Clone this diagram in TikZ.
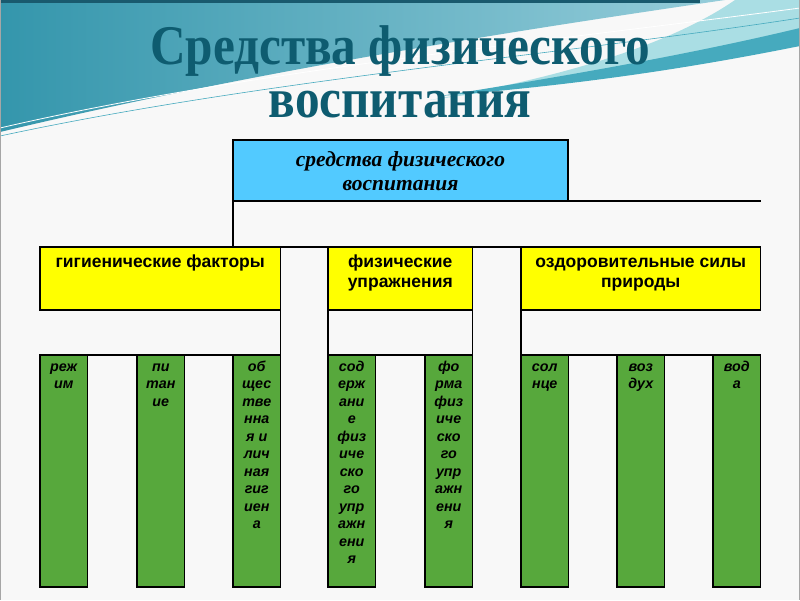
\documentclass[tikz,border=0pt]{standalone}
\usepackage{fontspec}
\setmainfont{Liberation Sans}
\newfontfamily\boxserif{Liberation Serif}
\newfontfamily\titlefont[FakeStretch=0.88]{Liberation Serif}
\definecolor{bgcol}{RGB}{248,248,248}
\definecolor{waveA}{RGB}{52,150,172}
\definecolor{waveB}{RGB}{150,205,218}
\definecolor{waveC}{RGB}{170,222,228}
\definecolor{waveD}{RGB}{70,170,190}
\definecolor{edgecol}{RGB}{25,90,110}
\definecolor{titlecol}{RGB}{14,92,112}
\definecolor{bluebox}{RGB}{82,202,255}
\definecolor{yelbox}{RGB}{255,255,0}
\definecolor{grnbox}{RGB}{87,168,60}
\tikzset{
  frame/.style={draw=black, line width=1.1pt},
  topbox/.style={frame, fill=bluebox, minimum width=335pt, minimum height=61pt, inner sep=0pt, outer sep=0pt, anchor=north west},
  grpbox/.style={frame, fill=yelbox, minimum height=63pt, inner sep=0pt, outer sep=0pt, anchor=north west},
  itembox/.style={frame, fill=grnbox, minimum width=47.5pt, minimum height=232pt, inner sep=0pt, outer sep=0pt, anchor=north west},
  itemtext/.style={anchor=north, inner sep=0pt, align=center, font=\fontsize{14.3}{17.5}\selectfont\bfseries\itshape},
  grptext/.style={anchor=north, inner sep=0pt, align=center, font=\fontsize{17.5}{20}\selectfont\bfseries},
  toptext/.style={anchor=north, inner sep=0pt, align=center, font=\boxserif\fontsize{21.5}{24}\selectfont\bfseries\itshape},
  titletext/.style={anchor=base, inner sep=0pt, text=titlecol, font=\titlefont\fontsize{56}{56}\selectfont\bfseries}
}
\begin{document}
\begin{tikzpicture}[x=1pt,y=-1pt]
\useasboundingbox (0,0) rectangle (800,600);
\fill[bgcol] (0,0) rectangle (800,600);
% decorative waves
\shade[left color=waveA, right color=waveB] (0,0) -- (725,0) .. controls (520,30) and (260,70) .. (0,132) -- cycle;
\fill[waveC] (735,0) -- (800,0) -- (800,40) .. controls (690,62) and (560,82) .. (430,100) .. controls (560,78) and (670,45) .. (735,0) -- cycle;
\fill[waveD] (800,28) .. controls (700,52) and (580,74) .. (440,96) .. controls (590,84) and (700,66) .. (800,46) -- cycle;
\draw[white, line width=0.8pt] (0,128) .. controls (250,70) and (560,40) .. (800,8);
\draw[waveD, line width=0.6pt] (0,136) .. controls (260,80) and (560,55) .. (800,18);
\fill[edgecol] (0,0) rectangle (700,3);
\draw[gray!70, line width=1pt] (0.5,0) -- (0.5,600);
\draw[gray!70, line width=1pt] (799.5,0) -- (799.5,600);
% title
\node[titletext] (t1) at (400,64) {Средства физического};
\node[titletext] (t2) at (400,117) {воспитания};
% top box
\node[topbox] (top) at (233,140) {};
\node[toptext] (toptx) at ([yshift=-9pt]top.north) {\strut средства физического\\воспитания};
% group boxes
\node[grpbox, minimum width=240.5pt] (g1) at (40,247) {};
\node[grpbox, minimum width=144.5pt] (g2) at (328,247) {};
\node[grpbox, minimum width=239.5pt] (g3) at (521,247) {};
\node[grptext] (g1t) at ([yshift=-6pt]g1.north) {\strut гигиенические факторы};
\node[grptext] (g2t) at ([yshift=-6pt]g2.north) {\strut физические\\упражнения};
\node[grptext] (g3t) at ([yshift=-6pt]g3.north) {\strut оздоровительные силы\\природы};
% item boxes
\node[itembox] (i1) at (40,355) {};
\node[itembox] (i2) at (137,355) {};
\node[itembox] (i3) at (233,355) {};
\node[itembox] (i4) at (328,355) {};
\node[itembox] (i5) at (425,355) {};
\node[itembox] (i6) at (521,355) {};
\node[itembox] (i7) at (617,355) {};
\node[itembox] (i8) at (713,355) {};
\node[itemtext] (i1t) at ([yshift=-4pt]i1.north) {\strut реж\\им};
\node[itemtext] (i2t) at ([yshift=-4pt]i2.north) {\strut пи\\тан\\ие};
\node[itemtext] (i3t) at ([yshift=-4pt]i3.north) {\strut об\\щес\\тве\\нна\\я и\\лич\\ная\\гиг\\иен\\а};
\node[itemtext] (i4t) at ([yshift=-4pt]i4.north) {\strut сод\\ерж\\ани\\е\\физ\\иче\\ско\\го\\упр\\ажн\\ени\\я};
\node[itemtext] (i5t) at ([yshift=-4pt]i5.north) {\strut фо\\рма\\физ\\иче\\ско\\го\\упр\\ажн\\ени\\я};
\node[itemtext] (i6t) at ([yshift=-4pt]i6.north) {\strut сол\\нце};
\node[itemtext] (i7t) at ([yshift=-4pt]i7.north) {\strut воз\\дух};
\node[itemtext] (i8t) at ([yshift=-4pt]i8.north) {\strut вод\\а};
% frame lines
\coordinate (topend) at (761,201);
\draw[frame] (top.south east) -- (topend);
\draw[frame] (top.south west) -- (top.south west |- g1.north);
\draw[frame] (g1.north east) -- (g2.north west);
\draw[frame] (g2.north east) -- (g3.north west);
\draw[frame] (g1.south east) -- (g1.south east |- i3.north);
\draw[frame] (g2.south west) -- (g2.south west |- i4.north);
\draw[frame] (g2.south east) -- (g2.south east |- i5.north);
\draw[frame] (g3.south west) -- (g3.south west |- i6.north);
\draw[frame] (i1.north west) -- (i3.north east);
\draw[frame] (i4.north west) -- (i5.north east);
\draw[frame] (i6.north west) -- (i8.north east);
\end{tikzpicture}
\end{document}
